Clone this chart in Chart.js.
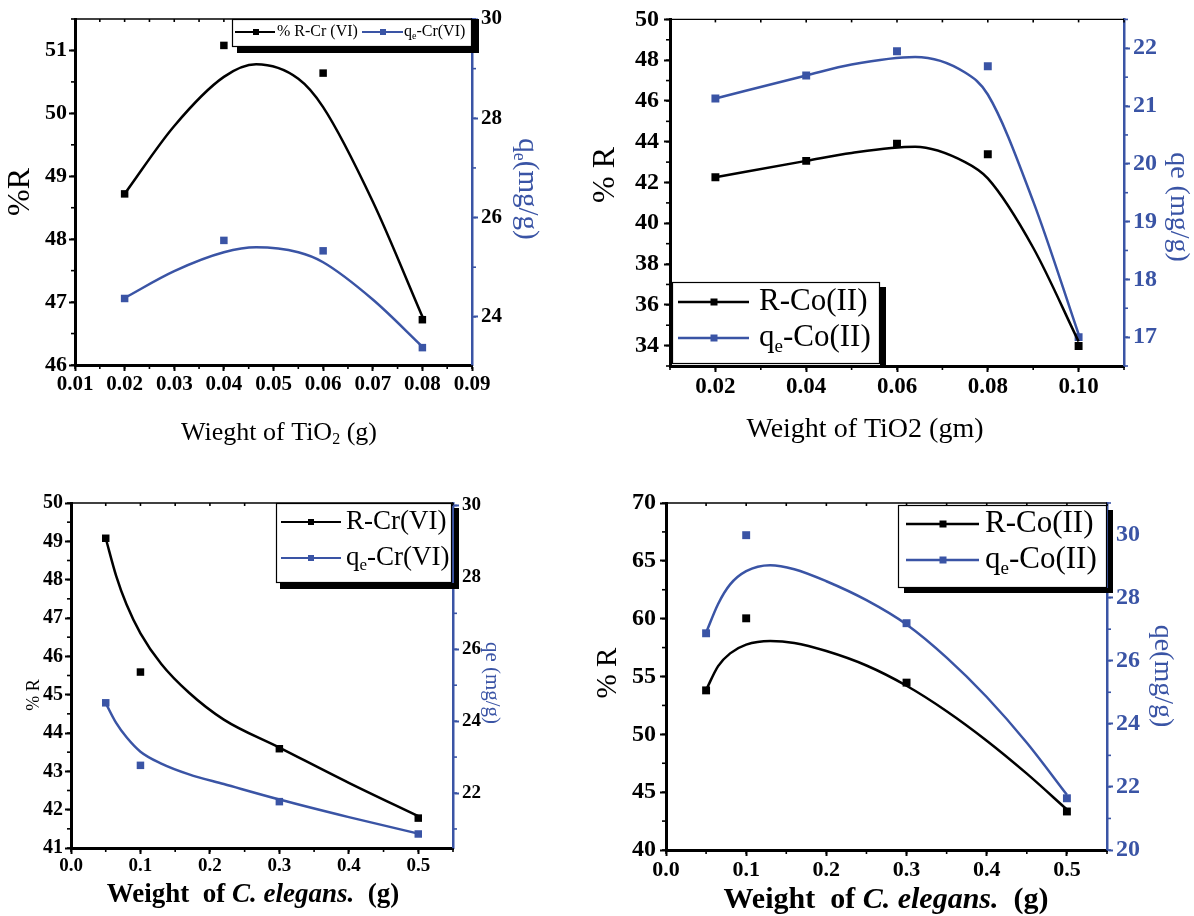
<!DOCTYPE html>
<html><head><meta charset="utf-8">
<script src="https://cdn.jsdelivr.net/npm/chart.js@4"></script>
<style>
html,body{margin:0;padding:0;background:#fff;}
#wrap{position:relative;width:1194px;height:916px;overflow:hidden;background:#fff;}
#wrap canvas{position:absolute;left:0;top:0;}
</style></head><body><div id="wrap">
<canvas id="c1" width="1194" height="916"></canvas>
<canvas id="c2" width="1194" height="916"></canvas>
<canvas id="c3" width="1194" height="916"></canvas>
<canvas id="c4" width="1194" height="916"></canvas>
</div>
<script>
// ---------- Panel 1: TiO2 / Cr(VI) ----------
const p1Weights = [0.02, 0.04, 0.06, 0.08];
const p1Removal = [48.72, 51.08, 50.64, 46.72];
const p1Qe = [24.37, 25.54, 25.33, 23.38];
const p1FitX = [0.02, 0.03, 0.04, 0.0465, 0.055, 0.06, 0.07, 0.08];
const p1FitRemoval = [48.72, 49.8, 50.58, 50.78, 50.55, 50.1, 48.6, 46.77];
const p1FitQe = [24.38, 24.92, 25.3, 25.4, 25.3, 25.1, 24.35, 23.4];
const p1XTicks = [0.01, 0.02, 0.03, 0.04, 0.05, 0.06, 0.07, 0.08, 0.09];
const p1XLabels = ['0.01', '0.02', '0.03', '0.04', '0.05', '0.06', '0.07', '0.08', '0.09'];
const p1LeftTicks = [46, 47, 48, 49, 50, 51];
const p1RightTicks = [24, 26, 28, 30];
const p1Series = ['% R-Cr (VI)', 'q_e-Cr(VI)'];
const p1Titles = ['%R', 'q_e(mg/g)', 'Wieght of TiO_2 (g)'];

// ---------- Panel 2: TiO2 / Co(II) ----------
const p2Weights = [0.02, 0.04, 0.06, 0.08, 0.10];
const p2Removal = [42.26, 43.06, 43.9, 43.39, 33.98];
const p2Qe = [21.13, 21.53, 21.95, 21.69, 17.0];
const p2FitX = [0.02, 0.04, 0.05, 0.064, 0.075, 0.08, 0.09, 0.10];
const p2FitRemoval = [42.26, 43.06, 43.45, 43.75, 43.0, 42.2, 38.8, 34.2];
const p2FitQe = [21.13, 21.53, 21.72, 21.85, 21.58, 21.2, 19.35, 17.05];
const p2XTicks = [0.02, 0.04, 0.06, 0.08, 0.10];
const p2XLabels = ['0.02', '0.04', '0.06', '0.08', '0.10'];
const p2LeftTicks = [34, 36, 38, 40, 42, 44, 46, 48, 50];
const p2RightTicks = [17, 18, 19, 20, 21, 22];
const p2Series = ['R-Co(II)', 'q_e-Co(II)'];
const p2Titles = ['% R', 'qe (mg/g)', 'Weight of TiO2 (gm)'];

// ---------- Panel 3: C. elegans / Cr(VI) ----------
const p3Weights = [0.05, 0.1, 0.3, 0.5];
const p3Removal = [49.08, 45.59, 43.59, 41.78];
const p3Qe = [24.51, 22.77, 21.76, 20.86];
const p3FitX = [0.05, 0.065, 0.08, 0.1, 0.13, 0.17, 0.22, 0.3, 0.4, 0.5];
const p3FitRemoval = [49.08, 48.1, 47.35, 46.6, 45.8, 45.05, 44.35, 43.62, 42.7, 41.83];
const p3FitQe = [24.5, 23.95, 23.55, 23.15, 22.82, 22.52, 22.25, 21.82, 21.33, 20.87];
const p3XTicks = [0.0, 0.1, 0.2, 0.3, 0.4, 0.5];
const p3XLabels = ['0.0', '0.1', '0.2', '0.3', '0.4', '0.5'];
const p3LeftTicks = [41, 42, 43, 44, 45, 46, 47, 48, 49, 50];
const p3RightTicks = [22, 24, 26, 28, 30];
const p3Series = ['R-Cr(VI)', 'q_e-Cr(VI)'];
const p3Titles = ['% R', 'qe (mg/g)', 'Weight  of *C. elegans.*  (g)'];

// ---------- Panel 4: C. elegans / Co(II) ----------
const p4Weights = [0.05, 0.1, 0.3, 0.5];
const p4Removal = [53.8, 60.03, 54.47, 43.33];
const p4Qe = [26.87, 29.98, 27.19, 21.64];
const p4FitX = [0.05, 0.065, 0.08, 0.1, 0.13, 0.16, 0.2, 0.25, 0.3, 0.35, 0.4, 0.45, 0.5];
const p4FitRemoval = [53.83, 55.9, 57.0, 57.75, 58.07, 57.9, 57.2, 55.95, 54.2, 52.0, 49.45, 46.6, 43.5];
const p4FitQe = [26.89, 27.8, 28.42, 28.84, 29.03, 28.9, 28.52, 27.92, 27.15, 26.1, 24.85, 23.4, 21.75];
const p4XTicks = [0.0, 0.1, 0.2, 0.3, 0.4, 0.5];
const p4XLabels = ['0.0', '0.1', '0.2', '0.3', '0.4', '0.5'];
const p4LeftTicks = [40, 45, 50, 55, 60, 65, 70];
const p4RightTicks = [20, 22, 24, 26, 28, 30];
const p4Series = ['R-Co(II)', 'q_e-Co(II)'];
const p4Titles = ['% R', 'qe(mg/g)', 'Weight  of *C. elegans.*  (g)'];

// ---------- styling ----------
const BLUE = '#3a54a5';
const BLACK = '#000000';
const FONT = '"Liberation Serif", "Times New Roman", serif';
const W = 1194, H = 916;

function parseRich(s) {
  const segs = []; let it = false; let buf = '';
  for (let i = 0; i < s.length; i++) {
    const ch = s[i];
    if (ch === '*') { if (buf) { segs.push({ t: buf, it }); buf = ''; } it = !it; continue; }
    if (ch === '_') { if (buf) { segs.push({ t: buf, it }); buf = ''; } segs.push({ t: s[i + 1], it, sub: true }); i++; continue; }
    buf += ch;
  }
  if (buf) segs.push({ t: buf, it });
  return segs;
}
function drawRich(ctx, s, x, y, o) {
  const segs = parseRich(s);
  const f = sg => `${sg.it ? 'italic ' : ''}${o.bold ? 'bold ' : ''}${sg.sub ? Math.round(o.size * 0.62) : o.size}px ${FONT}`;
  ctx.save();
  ctx.translate(x, y);
  if (o.rot) ctx.rotate(o.rot);
  let w = 0;
  segs.forEach(sg => { ctx.font = f(sg); sg.w = ctx.measureText(sg.t).width; w += sg.w; });
  let cx = o.align === 'left' ? 0 : -w / 2;
  ctx.fillStyle = o.color || BLACK; ctx.textBaseline = 'middle'; ctx.textAlign = 'left';
  segs.forEach(sg => { ctx.font = f(sg); ctx.fillText(sg.t, cx, sg.sub ? o.size * 0.28 : 0); cx += sg.w; });
  ctx.restore();
}
function seq(a, b, step) {
  const out = []; const n = Math.round((b - a) / step);
  for (let k = 0; k <= n; k++) out.push(+(a + k * step).toFixed(6));
  return out;
}

function makeDeco(P) {
  return {
    id: 'deco',
    afterDraw(chart) {
      const ctx = chart.ctx, a = chart.chartArea;
      const xs = chart.scales.x, ys = chart.scales.y, y1 = chart.scales.y1;
      ctx.save();
      ctx.strokeStyle = BLACK; ctx.lineWidth = 1.3;
      ctx.beginPath(); ctx.moveTo(a.left, a.top); ctx.lineTo(a.right, a.top); ctx.stroke();
      ctx.lineWidth = 1.6;
      seq(P.xMinor[0], P.xMinor[1], P.xMinor[2]).forEach(v => {
        const px = xs.getPixelForValue(v);
        ctx.beginPath(); ctx.moveTo(px, a.bottom); ctx.lineTo(px, a.bottom + 4); ctx.stroke();
        ctx.beginPath(); ctx.moveTo(px, a.top); ctx.lineTo(px, a.top + 3); ctx.stroke();
      });
      seq(P.yMinor[0], P.yMinor[1], P.yMinor[2]).forEach(v => {
        const py = ys.getPixelForValue(v);
        ctx.beginPath(); ctx.moveTo(a.left - 4, py); ctx.lineTo(a.left, py); ctx.stroke();
      });
      ctx.strokeStyle = BLUE;
      seq(P.y1Minor[0], P.y1Minor[1], P.y1Minor[2]).forEach(v => {
        const py = y1.getPixelForValue(v);
        ctx.beginPath(); ctx.moveTo(a.right, py); ctx.lineTo(a.right + 4, py); ctx.stroke();
      });
      // legend
      const L = P.legend;
      ctx.fillStyle = BLACK;
      if (L.shadowR) ctx.fillRect(L.shadowR[0], L.shadowR[1], L.shadowR[2] - L.shadowR[0], L.shadowR[3] - L.shadowR[1]);
      if (L.shadowB) ctx.fillRect(L.shadowB[0], L.shadowB[1], L.shadowB[2] - L.shadowB[0], L.shadowB[3] - L.shadowB[1]);
      ctx.fillStyle = '#fff';
      ctx.fillRect(L.box[0], L.box[1], L.box[2] - L.box[0], L.box[3] - L.box[1]);
      ctx.strokeStyle = BLACK; ctx.lineWidth = 1.2;
      ctx.strokeRect(L.box[0] + 0.5, L.box[1] + 0.5, L.box[2] - L.box[0] - 1, L.box[3] - L.box[1] - 1);
      L.entries.forEach((e, i) => {
        const col = i === 0 ? BLACK : BLUE;
        ctx.strokeStyle = col; ctx.lineWidth = L.lw;
        ctx.beginPath(); ctx.moveTo(e.l[0], e.y); ctx.lineTo(e.l[1], e.y); ctx.stroke();
        ctx.fillStyle = col;
        ctx.fillRect(e.m - L.ms / 2, e.y - L.ms / 2, L.ms, L.ms);
        drawRich(ctx, chart.data.datasets[i].label, e.t, e.y, { size: L.size, align: 'left', color: BLACK });
      });
      P.titles.forEach(t => drawRich(ctx, t.text, t.x, t.y, t));
      ctx.restore();
    }
  };
}

function buildChart(P) {
  const tickFont = (s) => ({ family: FONT, weight: 'bold', size: s });
  const curve = (xs, ys, axis, col) => ({ label: '', data: xs.map((x, i) => ({ x, y: ys[i] })), yAxisID: axis, borderColor: col, borderWidth: P.lw, pointRadius: 0, cubicInterpolationMode: 'monotone', fill: false });
  const pts = (xs, ys, axis, col) => ({ label: 'pts', data: xs.map((x, i) => ({ x, y: ys[i] })), yAxisID: axis, showLine: false, pointStyle: 'rect', pointRadius: P.pr, pointBackgroundColor: col, pointBorderColor: col, pointBorderWidth: 0 });
  const d0 = curve(P.fitX, P.fitR, 'y', BLACK); d0.label = P.series[0];
  const d1 = curve(P.fitX, P.fitQ, 'y1', BLUE); d1.label = P.series[1];
  const cfg = {
    type: 'line',
    data: { datasets: [d0, d1, pts(P.w, P.r, 'y', BLACK), pts(P.w, P.q, 'y1', BLUE)] },
    options: {
      responsive: false, animation: false, devicePixelRatio: 1,
      layout: { padding: { top: P.area.top, left: 0, right: 0, bottom: 0 } },
      plugins: { legend: { display: false }, tooltip: { enabled: false }, title: { display: false } },
      scales: {
        x: {
          type: 'linear', position: 'bottom', min: P.xRange[0], max: P.xRange[1],
          afterBuildTicks: s => { s.ticks = P.xTicks.map(v => ({ value: v })); },
          afterFit: s => { s.height = H - P.area.bottom; },
          ticks: { autoSkip: false, maxRotation: 0, minRotation: 0, padding: 1, color: BLACK, font: tickFont(P.xFont), callback: (v, i) => P.xLabels[i] },
          grid: { display: true, drawOnChartArea: false, drawTicks: true, tickLength: 6, tickWidth: 2, color: BLACK, tickColor: BLACK },
          border: { display: true, color: BLACK, width: 3 }
        },
        y: {
          type: 'linear', position: 'left', min: P.yRange[0], max: P.yRange[1],
          afterBuildTicks: s => { s.ticks = P.yTicks.map(v => ({ value: v })); },
          afterFit: s => { s.width = P.area.left; },
          ticks: { autoSkip: false, padding: P.yPad, color: BLACK, font: tickFont(P.yFont), callback: v => String(v) },
          grid: { display: true, drawOnChartArea: false, drawTicks: true, tickLength: 6, tickWidth: 2, color: BLACK, tickColor: BLACK },
          border: { display: true, color: BLACK, width: 3 }
        },
        y1: {
          type: 'linear', position: 'right', min: P.y1Range[0], max: P.y1Range[1],
          afterBuildTicks: s => { s.ticks = P.y1Ticks.map(v => ({ value: v })); },
          afterFit: s => { s.width = W - P.area.right; },
          ticks: { autoSkip: false, padding: 3, color: P.rightLabelColor, font: tickFont(P.y1Font), callback: v => String(v) },
          grid: { display: true, drawOnChartArea: false, drawTicks: true, tickLength: 6, tickWidth: 2, color: BLUE, tickColor: BLUE },
          border: { display: true, color: BLUE, width: 2.5 }
        }
      }
    },
    plugins: [makeDeco(P)]
  };
  return new Chart(document.getElementById(P.id), cfg);
}

const panels = [
  { id: 'c1', area: { left: 75, right: 472, top: 19, bottom: 365 },
    w: p1Weights, r: p1Removal, q: p1Qe, fitX: p1FitX, fitR: p1FitRemoval, fitQ: p1FitQe, series: p1Series,
    xRange: [0.01, 0.09], yRange: [46, 51.5], y1Range: [23.03, 30],
    xTicks: p1XTicks, xLabels: p1XLabels, yTicks: p1LeftTicks, y1Ticks: p1RightTicks,
    xMinor: [0.01, 0.09, 0.005], yMinor: [46, 51.5, 0.5], y1Minor: [24, 30, 1],
    xFont: 21, yFont: 22, y1Font: 21, yPad: 2, rightLabelColor: BLACK, lw: 2.5, pr: 5.3,
    legend: { box: [232, 19, 472, 47], shadowB: [237, 47, 479, 53], shadowR: [472, 19, 479, 53], size: 16, ms: 6, lw: 2,
      entries: [{ y: 32, l: [235, 275], m: 256, t: 277 }, { y: 32, l: [362, 403], m: 383, t: 404 }] },
    titles: [
      { text: p1Titles[0], x: 21, y: 192, size: 32, rot: -Math.PI / 2 },
      { text: p1Titles[1], x: 527, y: 189, size: 29, rot: Math.PI / 2, color: BLUE },
      { text: p1Titles[2], x: 279, y: 433, size: 26 }] },
  { id: 'c2', area: { left: 670, right: 1124, top: 19, bottom: 366 },
    w: p2Weights, r: p2Removal, q: p2Qe, fitX: p2FitX, fitR: p2FitRemoval, fitQ: p2FitQe, series: p2Series,
    xRange: [0.01, 0.11], yRange: [33, 50], y1Range: [16.5, 22.5],
    xTicks: p2XTicks, xLabels: p2XLabels, yTicks: p2LeftTicks, y1Ticks: p2RightTicks,
    xMinor: [0.01, 0.11, 0.01], yMinor: [33, 50, 1], y1Minor: [16.5, 22.5, 0.5],
    xFont: 23, yFont: 24, y1Font: 24, yPad: 5, rightLabelColor: BLUE, lw: 2.5, pr: 5.6,
    legend: { box: [672, 282, 880, 364], shadowR: [880, 287, 886, 366], size: 31, ms: 7, lw: 2.5,
      entries: [{ y: 302, l: [678, 749], m: 714, t: 759 }, { y: 338, l: [678, 749], m: 714, t: 759 }] },
    titles: [
      { text: p2Titles[0], x: 606, y: 175, size: 32, rot: -Math.PI / 2 },
      { text: p2Titles[1], x: 1178, y: 207, size: 28, rot: Math.PI / 2, color: BLUE },
      { text: p2Titles[2], x: 865, y: 430, size: 28 }] },
  { id: 'c3', area: { left: 71, right: 453, top: 503, bottom: 848 },
    w: p3Weights, r: p3Removal, q: p3Qe, fitX: p3FitX, fitR: p3FitRemoval, fitQ: p3FitQe, series: p3Series,
    xRange: [0, 0.55], yRange: [41, 50], y1Range: [20.47, 30.07],
    xTicks: p3XTicks, xLabels: p3XLabels, yTicks: p3LeftTicks, y1Ticks: p3RightTicks,
    xMinor: [0, 0.55, 0.05], yMinor: [41, 50, 0.5], y1Minor: [21, 30, 1],
    xFont: 19, yFont: 20, y1Font: 19, yPad: 2, rightLabelColor: BLACK, lw: 2.5, pr: 5.3,
    legend: { box: [276, 503, 452, 583], shadowB: [280, 583, 459, 589], shadowR: [454, 508, 459, 589], size: 27, ms: 6, lw: 2.2,
      entries: [{ y: 522, l: [281, 341], m: 311, t: 346 }, { y: 558, l: [281, 341], m: 311, t: 346 }] },
    titles: [
      { text: p3Titles[0], x: 34, y: 695, size: 18, rot: -Math.PI / 2 },
      { text: p3Titles[1], x: 492, y: 683, size: 21, rot: Math.PI / 2, color: BLUE },
      { text: p3Titles[2], x: 253, y: 895, size: 27, bold: true }] },
  { id: 'c4', area: { left: 666, right: 1107, top: 503, bottom: 850 },
    w: p4Weights, r: p4Removal, q: p4Qe, fitX: p4FitX, fitR: p4FitRemoval, fitQ: p4FitQe, series: p4Series,
    xRange: [0, 0.55], yRange: [40, 70], y1Range: [20, 31],
    xTicks: p4XTicks, xLabels: p4XLabels, yTicks: p4LeftTicks, y1Ticks: p4RightTicks,
    xMinor: [0, 0.55, 0.05], yMinor: [40, 70, 2.5], y1Minor: [20, 31, 1],
    xFont: 22, yFont: 24, y1Font: 24, yPad: 4, rightLabelColor: BLUE, lw: 2.5, pr: 5.6,
    legend: { box: [898, 505, 1107, 588], shadowB: [904, 588, 1113, 593], shadowR: [1108, 510, 1113, 593], size: 31, ms: 7, lw: 2.5,
      entries: [{ y: 524, l: [906, 979], m: 943, t: 985 }, { y: 560, l: [906, 979], m: 943, t: 985 }] },
    titles: [
      { text: p4Titles[0], x: 608, y: 673, size: 29, rot: -Math.PI / 2 },
      { text: p4Titles[1], x: 1162, y: 676, size: 28, rot: Math.PI / 2, color: BLUE },
      { text: p4Titles[2], x: 886, y: 900, size: 30, bold: true }] }
];

panels.forEach(buildChart);
</script>
</body></html>
